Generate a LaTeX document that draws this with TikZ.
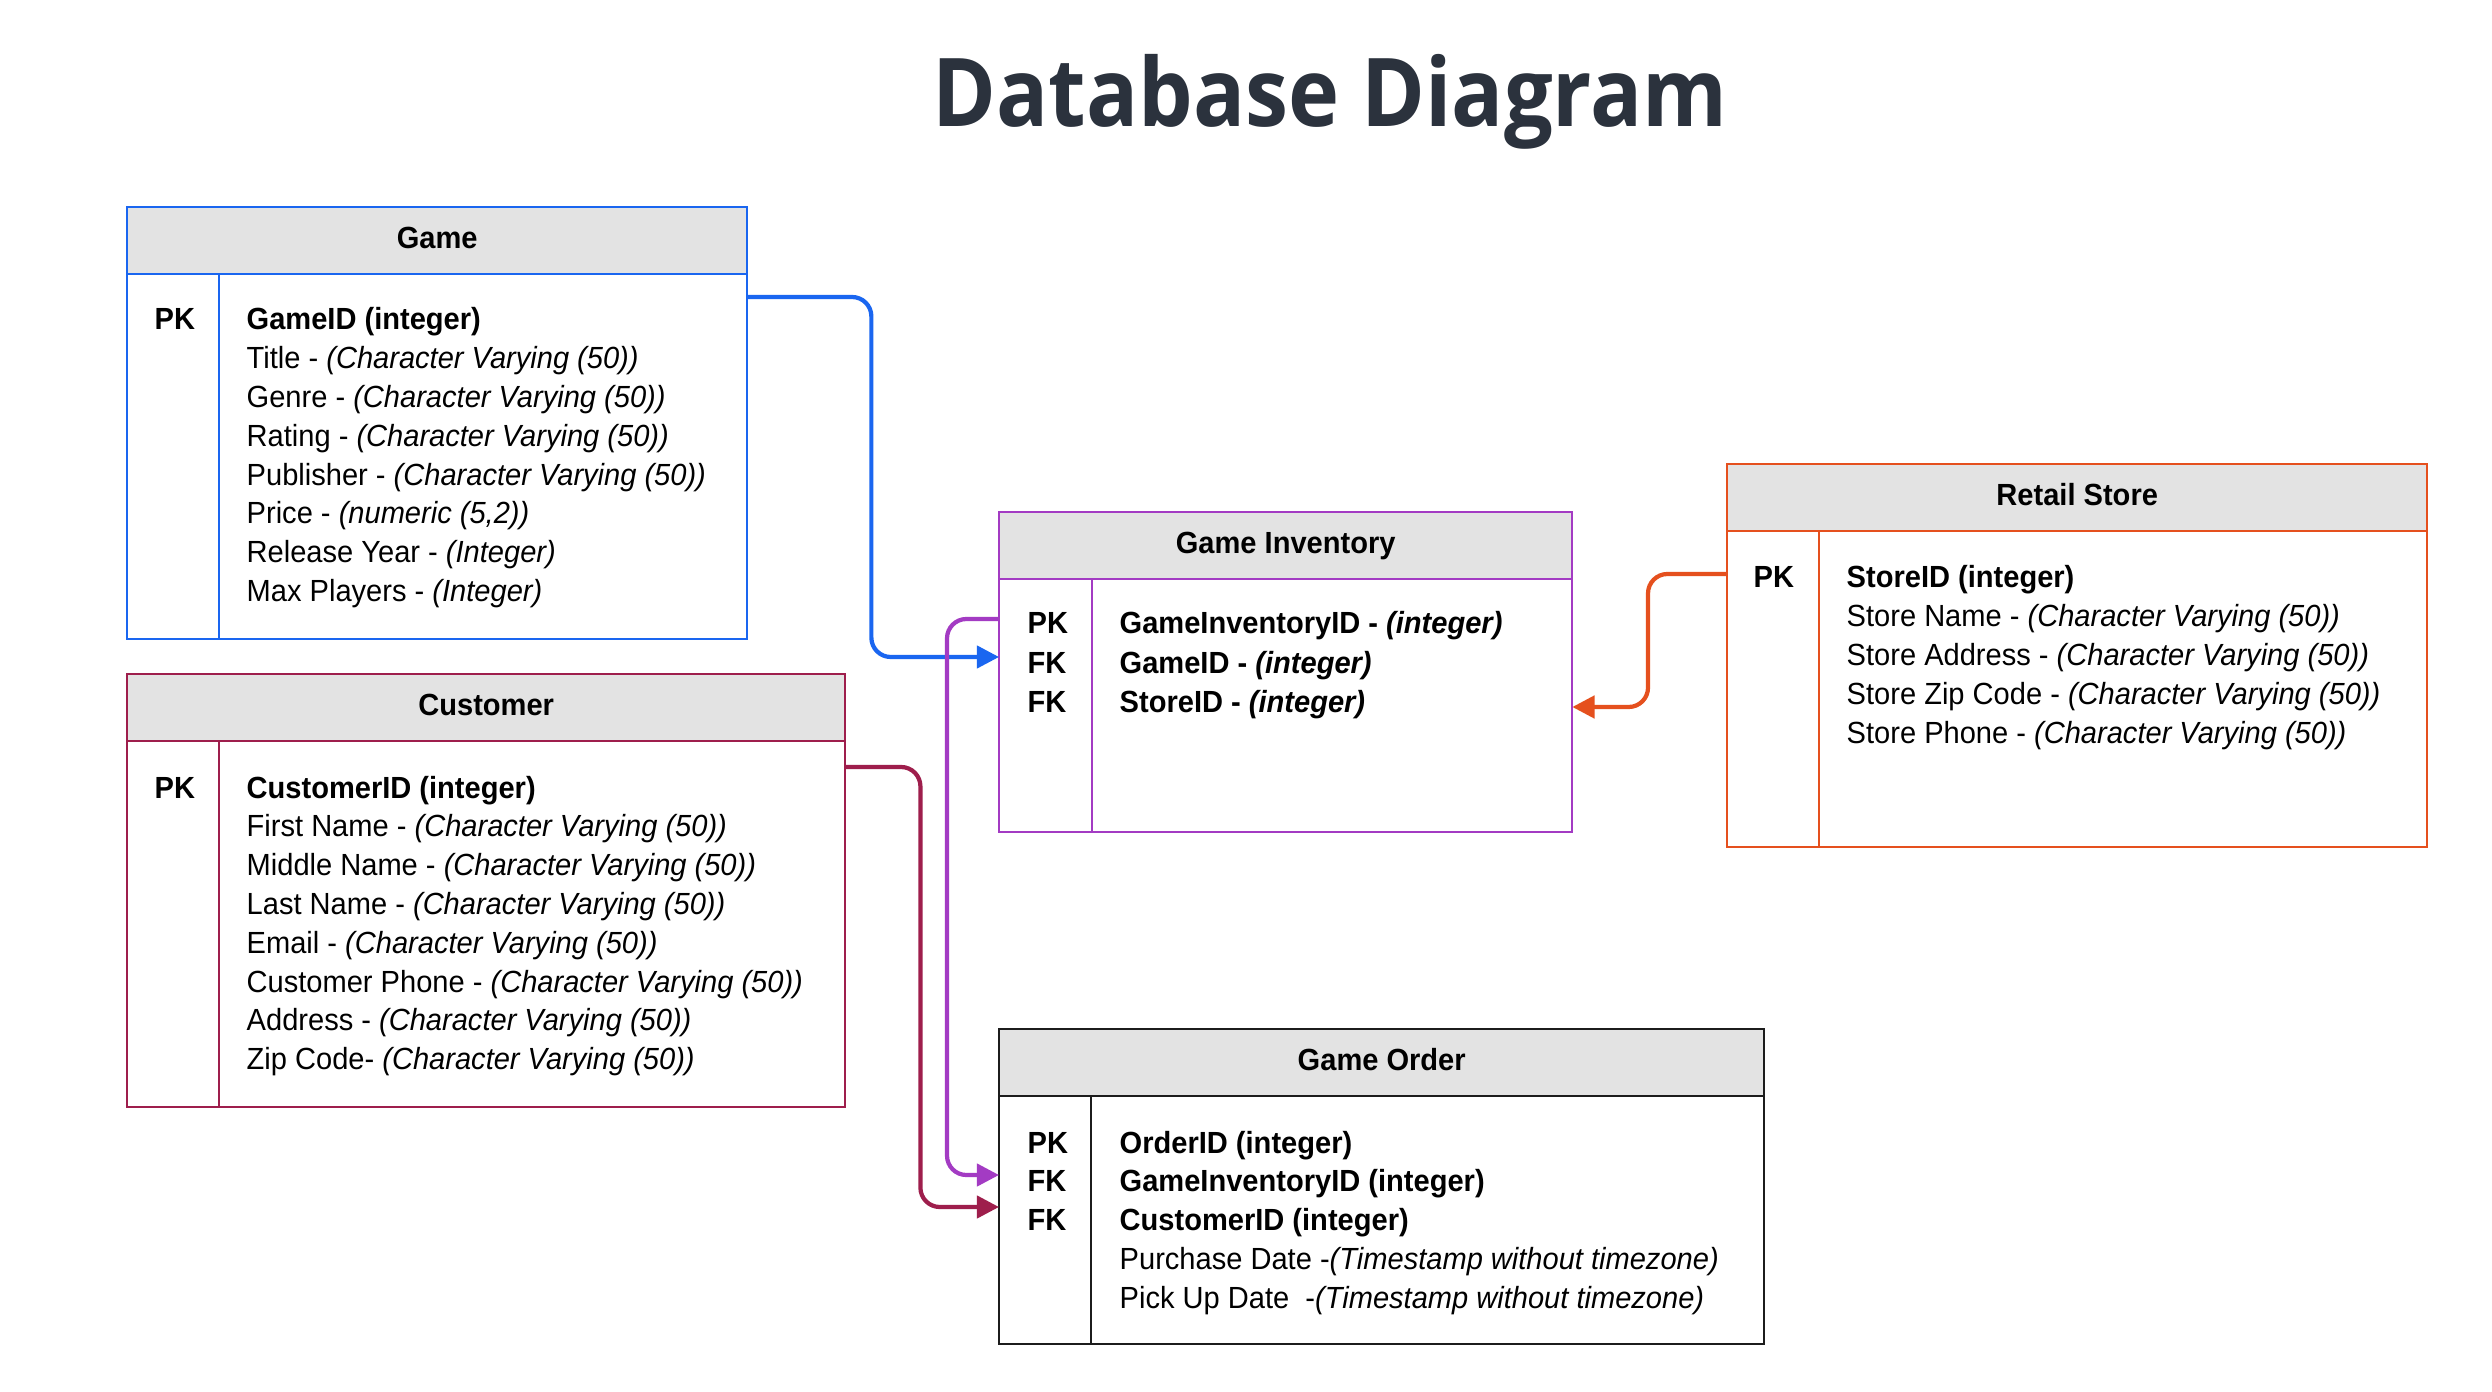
\documentclass[tikz,border=0pt]{standalone}
\usepackage{fontspec}
\setmainfont[FakeStretch=0.95]{Liberation Sans}
\newfontfamily\titlefont[FakeStretch=0.91]{Open Sans}
\usetikzlibrary{arrows.meta}

\definecolor{gameblue}{HTML}{1A66F0}
\definecolor{custred}{HTML}{9E1E4C}
\definecolor{invpurple}{HTML}{A33BC3}
\definecolor{storeorange}{HTML}{E5501E}
\definecolor{orderblack}{HTML}{1C1C1C}
\definecolor{headgray}{HTML}{E3E3E3}
\definecolor{titlegray}{HTML}{2B323D}

\newcommand{\rowfont}{\fontsize{8.7}{10}\selectfont}

\tikzset{
  tablehead/.style={draw=#1, fill=headgray, line width=0.57pt, inner sep=0pt, outer sep=0pt,
    anchor=north west, minimum height=0.67cm, text depth=0.06cm, font=\rowfont\bfseries},
  tablecol/.style={draw=#1, line width=0.57pt, inner sep=0pt, outer sep=0pt, anchor=north west},
  keytext/.style={anchor=base west, inner sep=0pt, font=\rowfont\bfseries},
  rowtext/.style={anchor=base west, inner sep=0pt, font=\rowfont},
  link/.style={draw=#1, line width=1.2pt, rounded corners=5.5pt,
    -{Triangle[length=6.3pt,width=6.3pt]}}
}

\begin{document}
\begin{tikzpicture}[x=0.01cm, y=-0.01cm]
    \fill[white] (0,0) rectangle (2492,1392);
    \useasboundingbox (0,0) rectangle (2492,1392);

    \node[font=\titlefont\bfseries\fontsize{27}{30}\selectfont, text=titlegray, anchor=base, inner sep=0pt] (title) at (1330,127) {Database Diagram};

    %Game
    \node[tablehead=gameblue, minimum width=6.2cm] (gamehead) at (127,207) {Game};
    \node[tablecol=gameblue, minimum width=0.92cm, minimum height=3.65cm] (gamekeys) at (gamehead.south west) {};
    \node[tablecol=gameblue, minimum width=5.28cm, minimum height=3.65cm] (gamefields) at (gamekeys.north east) {};
    \node[keytext] (gamek1) at (154,330) {PK};
    \foreach \txt [count=\i] in {{\textbf{GameID (integer)}}, {Title - \textit{(Character Varying (50))}},
        {Genre - \textit{(Character Varying (50))}}, {Rating - \textit{(Character Varying (50))}},
        {Publisher - \textit{(Character Varying (50))}}, {Price - \textit{(numeric (5,2))}},
        {Release Year - \textit{(Integer)}}, {Max Players - \textit{(Integer)}}}
        \node[rowtext] (gamef\i) at (246,{330+(\i-1)*38.8}) {\txt};

    %Customer
    \node[tablehead=custred, minimum width=7.18cm] (custhead) at (127,674) {Customer};
    \node[tablecol=custred, minimum width=0.92cm, minimum height=3.66cm] (custkeys) at (custhead.south west) {};
    \node[tablecol=custred, minimum width=6.26cm, minimum height=3.66cm] (custfields) at (custkeys.north east) {};
    \node[keytext] (custk1) at (154,798) {PK};
    \foreach \txt [count=\i] in {{\textbf{CustomerID (integer)}}, {First Name - \textit{(Character Varying (50))}},
        {Middle Name - \textit{(Character Varying (50))}}, {Last Name - \textit{(Character Varying (50))}},
        {Email - \textit{(Character Varying (50))}}, {Customer Phone - \textit{(Character Varying (50))}},
        {Address - \textit{(Character Varying (50))}}, {Zip Code- \textit{(Character Varying (50))}}}
        \node[rowtext] (custf\i) at (246,{798+(\i-1)*38.8}) {\txt};

    %Game Inventory
    \node[tablehead=invpurple, minimum width=5.73cm] (invhead) at (999,512) {Game Inventory};
    \node[tablecol=invpurple, minimum width=0.93cm, minimum height=2.53cm] (invkeys) at (invhead.south west) {};
    \node[tablecol=invpurple, minimum width=4.8cm, minimum height=2.53cm] (invfields) at (invkeys.north east) {};
    \foreach \k [count=\i] in {PK,FK,FK}
        \node[keytext] (invk\i) at (1027,{634+(\i-1)*39}) {\k};
    \foreach \txt [count=\i] in {{GameInventoryID - \textit{(integer)}}, {GameID - \textit{(integer)}},
        {StoreID - \textit{(integer)}}}
        \node[rowtext, font=\rowfont\bfseries] (invf\i) at (1119,{634+(\i-1)*39}) {\txt};

    %Retail Store
    \node[tablehead=storeorange, minimum width=7.0cm] (storehead) at (1727,464) {Retail Store};
    \node[tablecol=storeorange, minimum width=0.92cm, minimum height=3.16cm] (storekeys) at (storehead.south west) {};
    \node[tablecol=storeorange, minimum width=6.08cm, minimum height=3.16cm] (storefields) at (storekeys.north east) {};
    \node[keytext] (storek1) at (1753,588) {PK};
    \foreach \txt [count=\i] in {{\textbf{StoreID (integer)}}, {Store Name - \textit{(Character Varying (50))}},
        {Store Address - \textit{(Character Varying (50))}}, {Store Zip Code - \textit{(Character Varying (50))}},
        {Store Phone - \textit{(Character Varying (50))}}}
        \node[rowtext] (storef\i) at (1846,{588+(\i-1)*38.8}) {\txt};

    %Game Order
    \node[tablehead=orderblack, minimum width=7.65cm] (orderhead) at (999,1029) {Game Order};
    \node[tablecol=orderblack, minimum width=0.92cm, minimum height=2.48cm] (orderkeys) at (orderhead.south west) {};
    \node[tablecol=orderblack, minimum width=6.73cm, minimum height=2.48cm] (orderfields) at (orderkeys.north east) {};
    \foreach \k [count=\i] in {PK,FK,FK}
        \node[keytext] (orderk\i) at (1027,{1153+(\i-1)*38.8}) {\k};
    \foreach \txt [count=\i] in {{\textbf{OrderID (integer)}}, {\textbf{GameInventoryID (integer)}},
        {\textbf{CustomerID (integer)}}, {Purchase Date -\textit{(Timestamp without timezone)}},
        {Pick Up Date\ \ -\textit{(Timestamp without timezone)}}}
        \node[rowtext] (orderf\i) at (1119,{1153+(\i-1)*38.8}) {\txt};

    %Verbindungen
    \draw[link=gameblue] (gamefields.east |- 0,297) -- ++(124,0) |- (invkeys.west |- 0,657);
    \draw[link=invpurple] (invkeys.west |- 0,619) -- ++(-52,0) |- (orderkeys.west |- 0,1175);
    \draw[link=custred] (custfields.east |- 0,767) -- ++(75,0) |- (orderkeys.west |- 0,1207);
    \draw[link=storeorange] (storekeys.west |- 0,574) -- ++(-79,0) |- (invfields.east |- 0,707);
\end{tikzpicture}
\end{document}
